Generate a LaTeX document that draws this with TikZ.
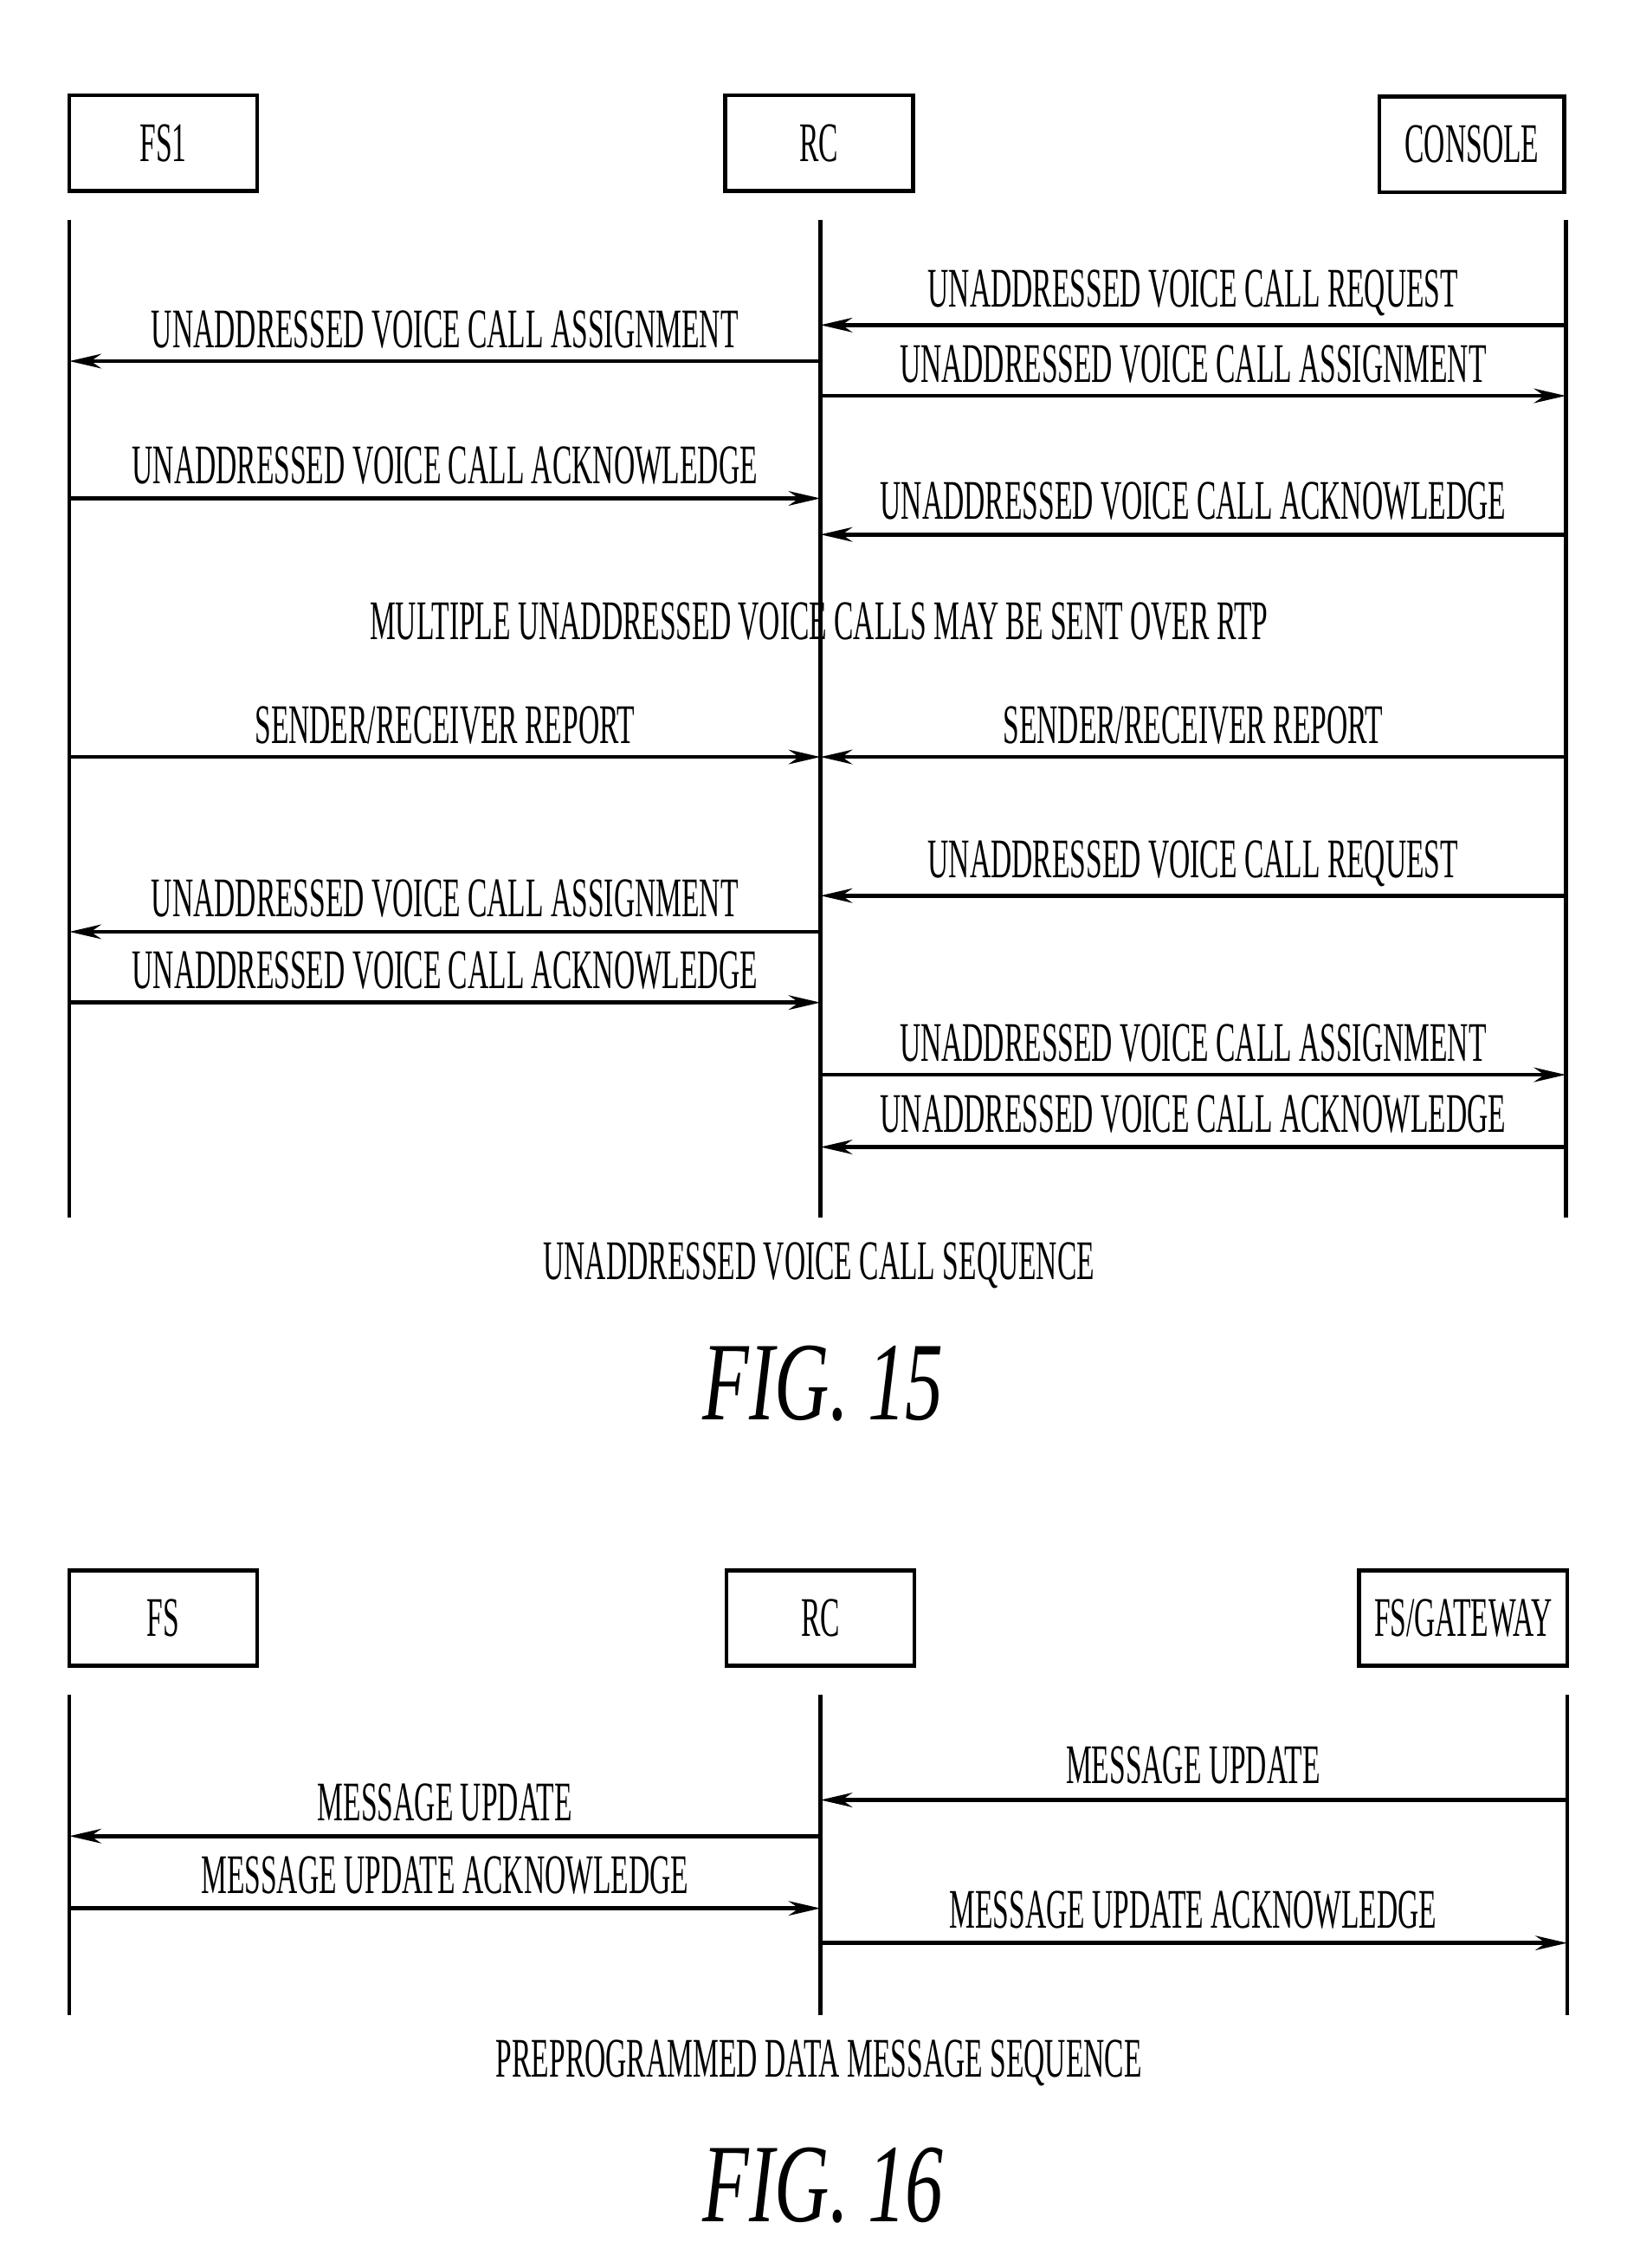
\documentclass[tikz,border=0pt]{standalone}
\usepackage{fontspec}
\setmainfont{Liberation Serif}
\newfontfamily\narrowfont{Liberation Serif}[FakeStretch=0.52]
\newfontfamily\figfont{Liberation Serif}[FakeStretch=0.68]
\usetikzlibrary{arrows.meta}
\begin{document}
\begin{tikzpicture}[x=0.01cm, y=-0.01cm,
    boxStyle/.style={draw, line width=0.8pt, minimum width=1.3cm, minimum height=0.66cm, inner sep=1pt, font=\narrowfont\fontsize{11}{11}\selectfont},
    lblStyle/.style={font=\narrowfont\fontsize{11}{11}\selectfont, inner sep=0pt},
    lifeStyle/.style={line width=0.8pt},
    msgStyle/.style={line width=0.8pt, -{Stealth[length=0.22cm, width=0.1cm]}},
    figStyle/.style={font=\figfont\itshape\fontsize{22}{22}\selectfont}]
\useasboundingbox (0,0) rectangle (1135,1570);
% FIG. 15
\node[boxStyle](fs1) at (113, 99) {FS1};
\node[boxStyle](rc1) at (567, 99) {RC};
\node[boxStyle, minimum width=1.28cm](con) at (1019, 100) {CONSOLE};
\coordinate (fsTop) at (48, 152);   \coordinate (fsBot) at (48, 843);
\coordinate (rcTop) at (568, 152);  \coordinate (rcBot) at (568, 843);
\coordinate (coTop) at (1084, 152); \coordinate (coBot) at (1084, 843);
\draw[lifeStyle] (fsTop) -- (fsBot);
\draw[lifeStyle] (rcTop) -- (rcBot);
\draw[lifeStyle] (coTop) -- (coBot);

\coordinate (c1) at (1084, 225); \coordinate (r1) at (568, 225);
\coordinate (r2) at (568, 250);  \coordinate (f2) at (48, 250);
\coordinate (r3) at (568, 274);  \coordinate (c3) at (1084, 274);
\coordinate (f4) at (48, 345);   \coordinate (r4) at (568, 345);
\coordinate (c5) at (1084, 370); \coordinate (r5) at (568, 370);
\coordinate (f6) at (48, 524);   \coordinate (r6) at (568, 524);
\coordinate (c7) at (1084, 524); \coordinate (r7) at (568, 524);
\coordinate (c8) at (1084, 620); \coordinate (r8) at (568, 620);
\coordinate (r9) at (568, 645);  \coordinate (f9) at (48, 645);
\coordinate (f10) at (48, 694);  \coordinate (r10) at (568, 694);
\coordinate (r11) at (568, 744); \coordinate (c11) at (1084, 744);
\coordinate (c12) at (1084, 794); \coordinate (r12) at (568, 794);

\draw[msgStyle] (c1) -- (r1);
\draw[msgStyle] (r2) -- (f2);
\draw[msgStyle] (r3) -- (c3);
\draw[msgStyle] (f4) -- (r4);
\draw[msgStyle] (c5) -- (r5);
\draw[msgStyle] (f6) -- (r6);
\draw[msgStyle] (c7) -- (r7);
\draw[msgStyle] (c8) -- (r8);
\draw[msgStyle] (r9) -- (f9);
\draw[msgStyle] (f10) -- (r10);
\draw[msgStyle] (r11) -- (c11);
\draw[msgStyle] (c12) -- (r12);

\node[lblStyle](l1) at (826, 203) {UNADDRESSED VOICE CALL REQUEST};
\node[lblStyle](l2) at (308, 228) {UNADDRESSED VOICE CALL ASSIGNMENT};
\node[lblStyle](l3) at (826, 252) {UNADDRESSED VOICE CALL ASSIGNMENT};
\node[lblStyle](l4) at (308, 322) {UNADDRESSED VOICE CALL ACKNOWLEDGE};
\node[lblStyle](l5) at (826, 347) {UNADDRESSED VOICE CALL ACKNOWLEDGE};
\node[lblStyle](multi) at (567, 430) {MULTIPLE UNADDRESSED VOICE CALLS MAY BE SENT OVER RTP};
\node[lblStyle](l6) at (308, 502) {SENDER/RECEIVER REPORT};
\node[lblStyle](l7) at (826, 502) {SENDER/RECEIVER REPORT};
\node[lblStyle](l8) at (826, 598) {UNADDRESSED VOICE CALL REQUEST};
\node[lblStyle](l9) at (308, 622) {UNADDRESSED VOICE CALL ASSIGNMENT};
\node[lblStyle](l10) at (308, 672) {UNADDRESSED VOICE CALL ACKNOWLEDGE};
\node[lblStyle](l11) at (826, 722) {UNADDRESSED VOICE CALL ASSIGNMENT};
\node[lblStyle](l12) at (826, 771) {UNADDRESSED VOICE CALL ACKNOWLEDGE};
\node[lblStyle](cap15) at (567, 876) {UNADDRESSED VOICE CALL SEQUENCE};
\node[figStyle](fig15) at (570, 958) {FIG. 15};

% FIG. 16
\node[boxStyle](fs) at (113, 1120) {FS};
\node[boxStyle](rc2) at (568, 1120) {RC};
\node[boxStyle, minimum width=1.44cm](gw) at (1013, 1120) {FS/GATEWAY};
\coordinate (fsTop2) at (48, 1173);   \coordinate (fsBot2) at (48, 1395);
\coordinate (rcTop2) at (568, 1173);  \coordinate (rcBot2) at (568, 1395);
\coordinate (gwTop) at (1085, 1173);  \coordinate (gwBot) at (1085, 1395);
\draw[lifeStyle] (fsTop2) -- (fsBot2);
\draw[lifeStyle] (rcTop2) -- (rcBot2);
\draw[lifeStyle] (gwTop) -- (gwBot);

\coordinate (g13) at (1085, 1246); \coordinate (r13) at (568, 1246);
\coordinate (r14) at (568, 1271);  \coordinate (f14) at (48, 1271);
\coordinate (f15) at (48, 1321);   \coordinate (r15) at (568, 1321);
\coordinate (r16) at (568, 1345);  \coordinate (g16) at (1085, 1345);
\draw[msgStyle] (g13) -- (r13);
\draw[msgStyle] (r14) -- (f14);
\draw[msgStyle] (f15) -- (r15);
\draw[msgStyle] (r16) -- (g16);

\node[lblStyle](l13) at (826, 1222) {MESSAGE UPDATE};
\node[lblStyle](l14) at (308, 1248) {MESSAGE UPDATE};
\node[lblStyle](l15) at (308, 1298) {MESSAGE UPDATE ACKNOWLEDGE};
\node[lblStyle](l16) at (826, 1322) {MESSAGE UPDATE ACKNOWLEDGE};
\node[lblStyle](cap16) at (567, 1428) {PREPROGRAMMED DATA MESSAGE SEQUENCE};
\node[figStyle](fig16) at (570, 1513) {FIG. 16};
\end{tikzpicture}
\end{document}
